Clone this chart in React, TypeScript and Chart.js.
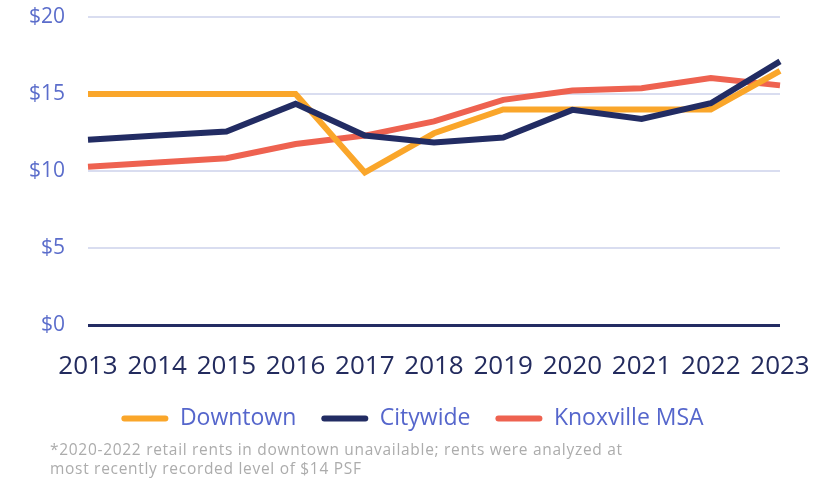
import React, { useEffect, useRef } from "react";
import { Chart, registerables } from "chart.js";

Chart.register(...registerables);

const years = ["2013", "2014", "2015", "2016", "2017", "2018", "2019", "2020", "2021", "2022", "2023"];
const downtown = [15, 15, 15, 15, 9.9, 12.45, 14, 14, 14, 14, 16.5];
const citywide = [12.03, 12.3, 12.57, 14.36, 12.3, 11.85, 12.18, 13.97, 13.38, 14.4, 17.12];
const knoxville = [10.28, 10.55, 10.83, 11.75, 12.3, 13.22, 14.62, 15.23, 15.38, 16.03, 15.56];
const seriesNames = ["Downtown", "Citywide", "Knoxville MSA"];
const seriesColors = ["#FAA62A", "#222C63", "#EE6250"];
const yTicks = [0, 5, 10, 15, 20];
const footnoteLines = [
  "*2020-2022 retail rents in downtown unavailable; rents were analyzed at",
  "most recently recorded level of $14 PSF",
];

export default function App() {
  const canvasRef = useRef<HTMLCanvasElement | null>(null);

  useEffect(() => {
    if (!canvasRef.current) return;
    const seriesData = [downtown, citywide, knoxville];
    const drawOrder = [1, 0, 2];
    const chart = new Chart(canvasRef.current, {
      type: "line",
      data: {
        labels: years,
        datasets: seriesNames.map((name, i) => ({
          label: name,
          data: seriesData[i],
          borderColor: seriesColors[i],
          backgroundColor: seriesColors[i],
          borderWidth: 6,
          pointRadius: 0,
          pointHoverRadius: 0,
          tension: 0,
          fill: false,
          borderJoinStyle: "miter" as const,
          order: drawOrder[i],
        })),
      },
      options: {
        responsive: false,
        animation: false,
        layout: { padding: { top: 17, right: 0, left: 0, bottom: 0 } },
        plugins: {
          tooltip: { enabled: false },
          legend: {
            position: "bottom",
            align: "center",
            labels: {
              boxWidth: 47,
              boxHeight: 6,
              padding: 25,
              color: "#5566CC",
              font: { family: "'Open Sans', sans-serif", size: 23 },
              sort: (a: any, b: any) => a.datasetIndex - b.datasetIndex,
              useBorderRadius: true,
              borderRadius: 3,
              generateLabels: (c: any) =>
                Chart.defaults.plugins.legend.labels.generateLabels(c).map((l: any) => ({
                  ...l,
                  lineWidth: 0,
                  fillStyle: seriesColors[l.datasetIndex],
                  strokeStyle: seriesColors[l.datasetIndex],
                })),
            },
          },
        },
        scales: {
          x: {
            offset: false,
            grid: { display: false, drawTicks: false },
            border: { display: false },
            ticks: {
              color: "#232B5E",
              font: { family: "'Open Sans', sans-serif", size: 26 },
              padding: 26,
              maxRotation: 0,
              autoSkip: false,
            },
            afterFit: (s: any) => {
              s.height = 57;
              s.paddingLeft = 0;
              s.paddingRight = 45;
            },
          },
          y: {
            min: 0,
            max: 20,
            afterBuildTicks: (s: any) => {
              s.ticks = yTicks.map((v) => ({ value: v }));
            },
            grid: {
              drawTicks: false,
              color: (ctx: any) => (ctx.tick && ctx.tick.value === 0 ? "#232C63" : "#D9DDF0"),
              lineWidth: (ctx: any) => (ctx.tick && ctx.tick.value === 0 ? 3 : 2),
            },
            border: { display: false },
            ticks: {
              color: "#5B6DCB",
              font: { family: "'Open Sans', sans-serif", size: 21 },
              padding: 23,
              callback: (v: any) => "$" + v,
            },
            afterFit: (s: any) => {
              s.width = 88;
              s.paddingTop = 0;
              s.paddingBottom = 0;
            },
          },
        },
      },
    });
    return () => chart.destroy();
  }, []);

  return (
    <div style={{ position: "absolute", left: 0, top: 0, width: 825, height: 479, background: "#fff" }}>
      <canvas ref={canvasRef} width={825} height={440} style={{ width: 825, height: 440, display: "block" }} />
      <div
        style={{
          position: "absolute",
          left: 50,
          top: 440,
          fontFamily: "'Open Sans', sans-serif",
          fontSize: 15.5,
          letterSpacing: "0.7px",
          lineHeight: "19px",
          color: "#ACACAC",
          whiteSpace: "nowrap",
        }}
      >
        {footnoteLines.map((t, i) => (
          <div key={i}>{t}</div>
        ))}
      </div>
    </div>
  );
}
